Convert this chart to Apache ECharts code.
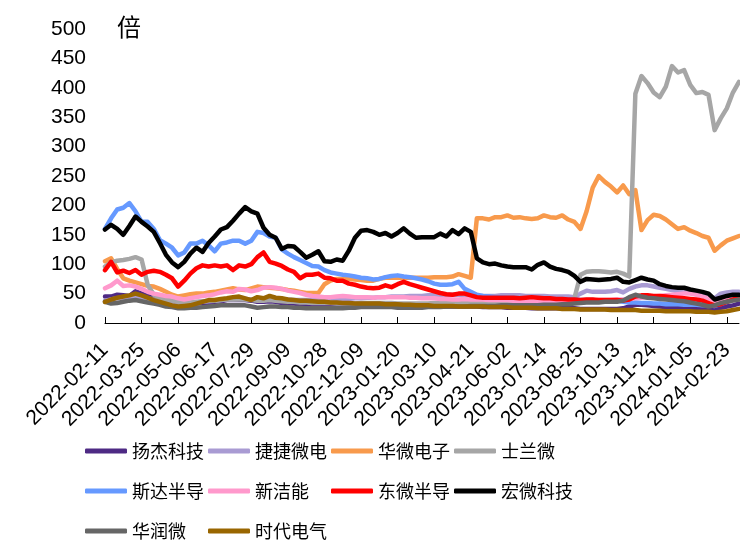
<!DOCTYPE html>
<html>
<head>
<meta charset="utf-8">
<script src="https://cdn.jsdelivr.net/npm/echarts@6/dist/echarts.min.js"></script>
<style>
  html, body { margin: 0; padding: 0; background: #fff; }
  #chart { width: 740px; height: 542px; }
</style>
</head>
<body>
<div id="chart"></div>
<script>
// Weekly trading dates (holiday weeks skipped)
const dates = [
  '2022-02-11','2022-02-18','2022-02-25','2022-03-04','2022-03-11','2022-03-18','2022-03-25','2022-04-01','2022-04-08','2022-04-15',
  '2022-04-22','2022-04-29','2022-05-06','2022-05-13','2022-05-20','2022-05-27','2022-06-02','2022-06-10','2022-06-17','2022-06-24',
  '2022-07-01','2022-07-08','2022-07-15','2022-07-22','2022-07-29','2022-08-05','2022-08-12','2022-08-19','2022-08-26','2022-09-02',
  '2022-09-09','2022-09-16','2022-09-23','2022-09-30','2022-10-14','2022-10-21','2022-10-28','2022-11-04','2022-11-11','2022-11-18',
  '2022-11-25','2022-12-02','2022-12-09','2022-12-16','2022-12-23','2022-12-30','2023-01-06','2023-01-13','2023-01-20','2023-02-03',
  '2023-02-10','2023-02-17','2023-02-24','2023-03-03','2023-03-10','2023-03-17','2023-03-24','2023-03-31','2023-04-07','2023-04-14',
  '2023-04-21','2023-04-28','2023-05-05','2023-05-12','2023-05-19','2023-05-26','2023-06-02','2023-06-09','2023-06-16','2023-06-21',
  '2023-06-30','2023-07-07','2023-07-14','2023-07-21','2023-07-28','2023-08-04','2023-08-11','2023-08-18','2023-08-25','2023-09-01',
  '2023-09-08','2023-09-15','2023-09-22','2023-09-28','2023-10-13','2023-10-20','2023-10-27','2023-11-03','2023-11-10','2023-11-17',
  '2023-11-24','2023-12-01','2023-12-08','2023-12-15','2023-12-22','2023-12-29','2024-01-05','2024-01-12','2024-01-19','2024-01-26',
  '2024-02-02','2024-02-08','2024-02-23','2024-03-01','2024-03-08'
];

const yTicks = [0, 50, 100, 150, 200, 250, 300, 350, 400, 450, 500];

// 扬杰科技
const yangjie = [
  45,45,48,47,46,54,50,46,42,39, 36,33,30,31,33,33,34,34,36,37,
  39,39,39,39,38,36,36,37,36,34, 33,33,32,32,31,31,30,30,30,30,
  30,29,30,30,31,30,30,29,29,28, 29,29,28,28,28,28,28,28,28,28,
  28,28,27,27,27,27,26,26,26,26, 25,25,25,25,25,25,25,25,24,24,
  24,24,24,24,24,25,28,31,31,30, 29,28,27,27,27,26,26,25,25,24,
  24,26,28,30,33
];
// 捷捷微电
const jiejie = [
  38,40,42,43,42,44,44,42,40,38, 36,34,33,33,34,35,36,37,38,39,
  40,40,41,41,40,40,40,41,41,40, 40,39,39,39,39,40,40,40,40,41,
  41,42,42,43,43,44,44,45,45,45, 46,46,46,47,47,47,48,48,48,48,
  47,46,46,46,46,47,47,47,47,46, 46,46,46,45,45,45,45,44,50,55,
  53,53,53,54,56,52,58,62,64,64, 62,60,58,56,54,55,53,50,48,46,
  42,50,52,53,53
];
// 华微电子
const huaweiDianzi = [
  105,110,92,76,72,69,66,63,62,58, 53,48,45,47,49,50,50,52,53,55,
  57,59,57,56,59,62,61,60,59,58, 56,55,53,51,51,51,66,72,75,75,
  75,74,73,72,72,75,77,77,77,77, 77,77,77,77,78,78,78,79,83,80,
  77,178,178,176,180,180,183,179,180,178, 177,178,183,180,179,183,176,172,160,190,
  230,250,240,232,222,234,219,226,158,175, 184,182,176,168,160,163,157,153,148,145,
  123,132,140,144,148
];
// 士兰微
const shilanwei = [
  96,103,106,107,109,112,108,65,48,43, 40,38,36,35,35,36,37,38,38,39,
  40,40,40,40,39,38,38,39,38,37, 36,36,35,35,34,34,34,34,33,33,
  33,33,34,34,34,34,34,34,33,33, 33,33,33,33,34,34,34,34,34,35,
  35,35,35,35,35,36,36,36,36,36, 36,37,37,37,37,38,38,42,82,87,
  88,88,87,86,87,84,79,390,420,408, 392,384,402,437,426,430,405,391,393,388,
  328,348,365,392,410
];
// 斯达半导
const sida = [
  160,178,193,196,204,190,172,172,160,141, 135,128,115,120,135,135,140,132,122,135,
  137,140,140,135,140,155,153,147,145,125, 118,112,107,102,97,96,90,86,84,82,
  81,79,77,76,74,75,78,80,81,79, 78,76,74,71,67,65,65,66,70,58,
  53,48,46,45,44,44,43,43,42,42, 42,41,41,41,40,40,40,40,39,39,
  39,38,38,38,38,36,35,35,34,34, 33,33,32,32,32,31,31,31,30,30,
  29,32,36,40,44
];
// 新洁能
const xinjieneng = [
  59,64,72,63,64,62,58,53,50,48, 46,45,42,40,42,44,46,47,49,52,
  54,53,58,57,54,56,60,61,60,58, 55,53,51,48,46,45,44,44,45,46,
  45,44,44,44,43,44,44,44,44,44, 43,43,42,42,42,41,41,40,40,41,
  40,40,40,39,39,39,39,38,38,38, 38,38,38,37,37,37,37,38,38,38,
  38,39,39,39,40,40,41,42,43,44, 45,46,47,48,49,50,50,48,45,42,
  38,38,40,42,44
];
// 东微半导
const dongwei = [
  90,104,86,89,85,90,82,87,89,87, 82,76,62,72,84,93,98,96,98,96,
  98,90,98,96,100,112,120,104,101,97, 91,87,76,82,82,84,77,76,72,72,
  67,65,62,60,59,60,64,61,66,70, 66,63,60,57,54,51,49,48,50,50,
  47,44,43,43,43,43,43,43,42,43, 44,43,42,42,41,41,40,40,39,40,
  40,39,39,39,39,38,40,45,47,47, 46,46,45,44,43,42,41,40,38,34,
  30,32,36,40,44
];
// 宏微科技
const hongwei = [
  159,167,160,150,165,181,172,164,155,136, 116,103,95,104,118,128,121,136,147,159,
  163,174,186,197,190,186,162,150,145,126, 131,130,121,111,116,122,105,104,108,106,
  123,145,157,158,155,150,153,147,153,161, 152,145,146,146,146,152,147,158,151,161,
  155,110,103,100,101,98,96,95,95,95, 91,99,103,96,92,90,87,80,70,75,
  74,73,74,75,77,70,69,73,77,74, 72,66,63,61,60,60,57,55,53,50,
  40,43,46,48,48
];
// 华润微
const huarunwei = [
  36,33,34,36,38,39,37,35,33,31, 28,27,25,25,26,26,27,28,29,30,
  30,30,30,30,28,26,27,28,28,27, 27,26,26,25,25,25,25,25,25,25,
  26,26,27,27,27,27,27,27,26,26, 26,26,26,27,27,27,28,28,28,28,
  29,29,29,29,29,30,30,30,30,30, 30,30,31,31,31,32,32,33,34,35,
  35,35,36,36,36,38,44,48,45,43, 42,41,40,39,38,37,35,33,31,28,
  30,34,36,38,40
];
// 时代电气
const shidai = [
  36,40,43,45,47,50,47,43,39,36, 33,30,28,29,30,33,36,39,39,41,
  42,44,45,42,39,44,42,46,43,42, 40,39,38,38,37,36,36,35,35,34,
  34,33,33,33,33,33,32,32,32,31, 31,30,30,30,29,29,29,29,28,28,
  28,28,28,27,27,27,27,26,26,26, 26,25,25,25,25,24,24,24,23,23,
  23,23,23,22,22,22,22,22,21,21, 21,21,20,20,20,20,20,19,19,19,
  18,19,20,22,24
];

const seriesDefs = [
  { name: '扬杰科技', data: yangjie, color: '#4E2A84' },
  { name: '捷捷微电', data: jiejie, color: '#A99BD3' },
  { name: '华微电子', data: huaweiDianzi, color: '#F89A4C' },
  { name: '士兰微', data: shilanwei, color: '#A6A6A6' },
  { name: '斯达半导', data: sida, color: '#6699FF' },
  { name: '新洁能', data: xinjieneng, color: '#FF99CC' },
  { name: '东微半导', data: dongwei, color: '#FF0000' },
  { name: '宏微科技', data: hongwei, color: '#000000' },
  { name: '华润微', data: huarunwei, color: '#666666' },
  { name: '时代电气', data: shidai, color: '#996600' }
];

// Legend laid out as a 4-column grid
const legendCols = [85, 208, 331, 454];
const legendRowTops = [442, 482, 522];

const latin = '"Liberation Sans", Arial, sans-serif';
const cjk = '"Noto Sans CJK SC", sans-serif';

const chart = echarts.init(document.getElementById('chart'), null, { renderer: 'canvas' });

chart.setOption({
  animation: false,
  backgroundColor: '#ffffff',
  title: {
    text: '倍',
    left: 112,
    top: 10,
    textStyle: { fontFamily: cjk, fontSize: 24, fontWeight: 'normal', color: '#000' }
  },
  grid: { left: 105, right: 1, top: 29, bottom: 219, containLabel: false },
  legend: seriesDefs.map((s, k) => ({
    data: [s.name],
    left: legendCols[k % 4],
    top: legendRowTops[Math.floor(k / 4)],
    padding: 0,
    itemWidth: 42,
    itemHeight: 5,
    icon: 'roundRect',
    textStyle: { fontFamily: cjk, fontSize: 18, color: '#000' }
  })),
  xAxis: {
    type: 'category',
    data: dates,
    boundaryGap: false,
    axisLine: { lineStyle: { color: '#000', width: 1 } },
    axisTick: { inside: true, length: 6, interval: 5, lineStyle: { color: '#000' } },
    axisLabel: {
      interval: 5,
      rotate: 45,
      margin: 24,
      fontFamily: latin,
      fontSize: 21,
      color: '#000'
    },
    splitLine: { show: false }
  },
  yAxis: {
    type: 'value',
    min: yTicks[0],
    max: yTicks[yTicks.length - 1],
    interval: 50,
    axisLine: { show: false },
    axisTick: { show: false },
    splitLine: { show: false },
    axisLabel: { margin: 19, fontFamily: latin, fontSize: 21, color: '#000' }
  },
  series: seriesDefs.map(s => ({
    name: s.name,
    type: 'line',
    data: s.data,
    showSymbol: false,
    symbol: 'none',
    smooth: false,
    color: s.color,
    lineStyle: { color: s.color, width: 4.5, cap: 'round', join: 'round' },
    emphasis: { disabled: true }
  }))
});
</script>
</body>
</html>
